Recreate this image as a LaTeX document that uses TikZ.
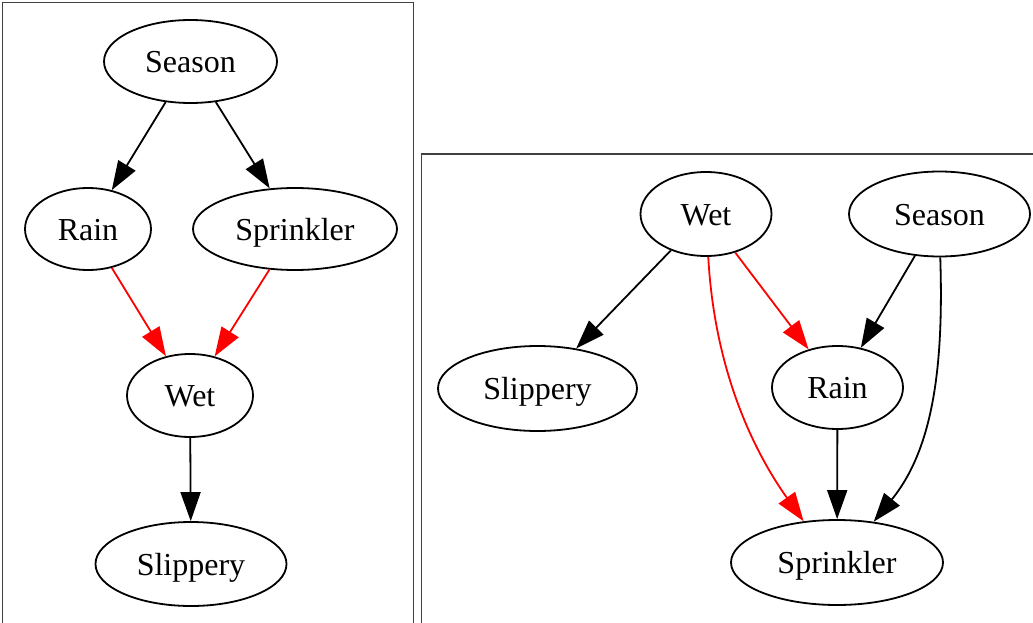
\documentclass[tikz,border=0pt]{standalone}
\usepackage{fontspec}
\setmainfont{Liberation Serif}
\usetikzlibrary{shapes.geometric,arrows.meta}
\tikzset{
  gnode/.style={draw, ellipse, line width=1.8pt, inner sep=0pt, text height=22pt, text depth=0pt, font=\fontsize{32}{36}\selectfont},
  gedge/.style={line width=1.8pt, -{Triangle[length=29pt,width=20pt]}},
  redge/.style={gedge, red},
  frame/.style={line width=1.1pt, draw=black!75},
}
\begin{document}
\begin{tikzpicture}[x=1pt,y=-1pt]
\useasboundingbox (0,0) rectangle (1033,623);
\draw[frame] (2.5,660) -- (2.5,2.5) -- (413.3,2.5) -- (413.3,660);
\draw[frame] (421.7,660) -- (421.7,154) -- (1040,154);
% left graph
\node[gnode, minimum width=173pt, minimum height=83pt] (ls) at (190.5,61.5) {Season};
\node[gnode, minimum width=126pt, minimum height=82pt] (lr) at (88,229) {Rain};
\node[gnode, minimum width=204pt, minimum height=82pt] (lk) at (295,229) {Sprinkler};
\node[gnode, minimum width=126pt, minimum height=83pt] (lw) at (190,395.5) {Wet};
\node[gnode, minimum width=191pt, minimum height=84pt] (lp) at (191,564) {Slippery};
\draw[gedge] (ls) -- (lr);
\draw[gedge] (ls) -- (lk);
\draw[redge] (lr) -- (lw);
\draw[redge] (lk) -- (lw);
\draw[gedge] (lw) -- (lp);
% right graph
\node[gnode, minimum width=131pt, minimum height=84pt] (rw) at (706,214) {Wet};
\node[gnode, minimum width=181pt, minimum height=85pt] (rs) at (939.5,214) {Season};
\node[gnode, minimum width=199pt, minimum height=85pt] (rp) at (537.5,388.5) {Slippery};
\node[gnode, minimum width=131pt, minimum height=83pt] (rr) at (837.5,387.5) {Rain};
\node[gnode, minimum width=212pt, minimum height=85pt] (rk) at (837,562.5) {Sprinkler};
\draw[gedge] (rw) -- (rp);
\draw[redge] (rw) -- (rr);
\draw[gedge] (rs) -- (rr);
\draw[gedge] (rr) -- (rk);
\draw[redge] (rw.-87) .. controls (715,380) and (760,460) .. (rk.129);
\draw[gedge] (rs.-89) .. controls (944,370) and (932,450) .. (rk.48);
\end{tikzpicture}
\end{document}
